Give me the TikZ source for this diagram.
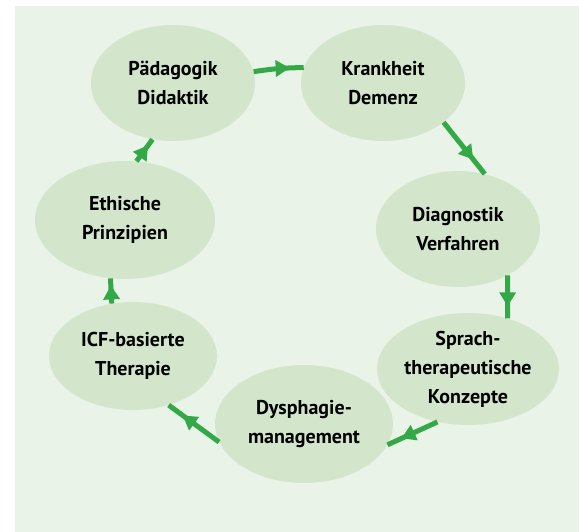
\documentclass[tikz,border=0pt]{standalone}
\usepackage{fontspec}
\setmainfont{PT Sans}
\usetikzlibrary{shapes.geometric,decorations.markings,arrows.meta}
\definecolor{bgc}{RGB}{234,243,232}
\definecolor{elc}{RGB}{211,230,204}
\definecolor{arc}{RGB}{50,168,70}
\tikzset{
  bub/.style={ellipse,fill=elc,inner sep=0pt,minimum width=164pt,minimum height=116pt,align=center,font=\fontsize{20}{29}\selectfont\bfseries},
  conn/.style={draw=arc,line width=5pt,
    postaction={decorate,decoration={markings,mark=at position 0.72 with {\arrow[arc]{Triangle[length=14pt,width=16pt]}}}}}
}
\begin{document}
\begin{tikzpicture}[x=1pt,y=-1pt]
\useasboundingbox (0,0) rectangle (579,532);
\fill[bgc] (15,6) rectangle (579,532);
\node[bub] (p) at (173,83) {Pädagogik\\Didaktik};
\node[bub] (k) at (383,83) {Krankheit\\Demenz};
\node[bub] (d) at (458,229) {Diagnostik\\Verfahren};
\node[bub,minimum width=182pt,minimum height=112pt] (s) at (468,369) {Sprach-\\therapeutische\\Konzepte};
\node[bub,minimum width=178pt,minimum height=118pt] (m) at (304,424) {Dysphagie-\\management};
\node[bub,minimum width=168pt,minimum height=108pt] (i) at (133,356) {ICF-basierte\\Therapie};
\node[bub,minimum width=180pt,minimum height=118pt] (e) at (125,220) {Ethische\\Prinzipien};
\draw[conn] (p.8) to[bend left=4] (k.169);
\draw[conn] (k.-33) to (d.64);
\draw[conn] (d.-43) to (s.52);
\draw[conn] (s.-120) to (m.-14);
\draw[conn] (m.192) to (i.-54);
\draw[conn] (i.112) to (e.-104);
\draw[conn] (e.79) to (p.-110);
\end{tikzpicture}
\end{document}
